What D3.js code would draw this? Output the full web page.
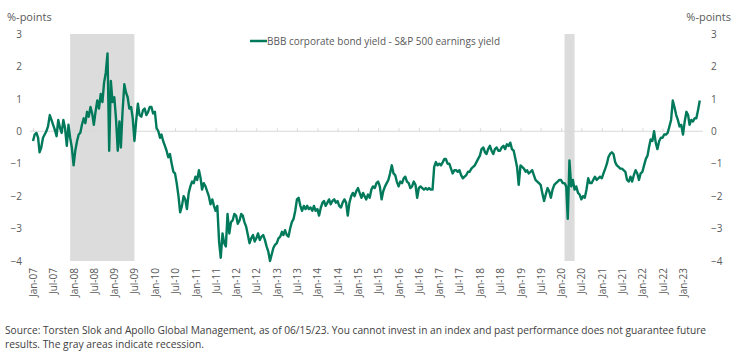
<!DOCTYPE html>
<html>
<head>
<meta charset="utf-8">
<script src="https://cdn.jsdelivr.net/npm/d3@7"></script>
<style>
  html, body { margin: 0; padding: 0; background: #fff; }
  svg { display: block; }
  text { font-family: "Open Sans", "Noto Sans", sans-serif; }
</style>
</head>
<body>
<svg id="chart" width="737" height="360"></svg>
<script>
// ---- data (semi-monthly readings: 1st and 16th of each month, Jan 2007 - Jun 2023) ----
const seriesName = "BBB corporate bond yield - S&P 500 earnings yield";
const startYear = 2007;
const spread = [
  // 2007
  -0.3,-0.1, -0.05,-0.2, -0.65,-0.5, -0.2,-0.1, 0.0,0.15, 0.5,0.35, 0.2,0.05, -0.15,0.35, 0.1,-0.05, 0.35,0.1, -0.45,0.2, -0.2,-0.5,
  // 2008
  -1.05,-0.6, -0.3,-0.1, -0.05,0.2, 0.4,0.25, 0.6,0.45, 0.75,0.55, 0.2,0.6, 0.95,0.7, 1.15,0.9, 1.5,1.8, 2.4,-0.6, 1.55,0.9,
  // 2009
  1.05,0.4, -0.6,0.3, -0.5,0.6, 1.45,1.2, 1.05,0.7, 0.75,0.4, -0.3,0.3, 0.85,0.5, 0.45,0.65, 0.7,0.5, 0.6,0.75, 0.75,0.55,
  // 2010
  0.6,0.1, 0.0,-0.2, -0.1,-0.3, -0.45,-0.6, -0.8,-0.7, -1.0,-1.25, -1.3,-1.6, -2.0,-2.5, -2.3,-2.0, -2.1,-2.4, -1.9,-1.7, -1.55,-1.6,
  // 2011
  -1.4,-1.5, -1.2,-1.45, -1.8,-1.6, -1.7,-1.85, -2.0,-2.25, -2.1,-2.3, -2.45,-2.3, -3.4,-3.9, -3.15,-3.45, -3.55,-2.55, -3.15,-2.8, -2.75,-2.55,
  // 2012
  -2.6,-2.85, -2.75,-2.55, -2.6,-2.8, -2.95,-3.2, -3.45,-3.3, -3.2,-3.4, -3.3,-3.15, -3.35,-3.25, -3.2,-3.35, -3.55,-3.7, -4.0,-3.8, -3.6,-3.5,
  // 2013
  -3.45,-3.3, -3.25,-3.1, -3.2,-3.05, -3.2,-3.25, -3.0,-2.8, -2.7,-2.45, -2.1,-2.05, -2.3,-2.45, -2.3,-2.4, -2.3,-2.4, -2.35,-2.45, -2.3,-2.45,
  // 2014
  -2.4,-2.6, -2.35,-2.2, -2.15,-2.3, -2.2,-2.1, -2.25,-2.15, -2.1,-2.2, -2.15,-2.3, -2.35,-2.2, -2.1,-2.2, -2.6,-2.2, -2.0,-1.9, -2.0,-1.85,
  // 2015
  -1.75,-1.9, -2.05,-1.9, -2.0,-2.1, -1.95,-2.05, -1.8,-1.7, -1.75,-1.6, -1.55,-1.7, -2.1,-1.85, -1.7,-1.6, -1.5,-1.3, -1.05,-1.3, -1.35,-1.55,
  // 2016
  -1.7,-1.55, -1.6,-1.45, -1.4,-1.55, -1.6,-1.75, -1.7,-1.55, -1.65,-2.05, -1.75,-1.7, -1.75,-1.8, -1.75,-1.8, -1.75,-1.8, -1.8,-1.1, -0.95,-1.05,
  // 2017
  -1.0,-1.05, -0.95,-0.85, -0.85,-1.0, -1.0,-1.15, -1.3,-1.2, -1.2,-1.25, -1.2,-1.35, -1.45,-1.4, -1.35,-1.25, -1.25,-1.15, -1.1,-1.05, -0.95,-0.85,
  // 2018
  -0.75,-0.55, -0.5,-0.65, -0.7,-0.55, -0.45,-0.6, -0.7,-0.55, -0.5,-0.6, -0.6,-0.5, -0.45,-0.55, -0.4,-0.45, -0.35,-0.55, -0.6,-0.85, -1.1,-1.65,
  // 2019
  -1.05,-1.1, -1.15,-1.25, -1.2,-1.3, -1.25,-1.2, -1.35,-1.5, -1.55,-1.6, -1.65,-1.9, -2.15,-1.95, -1.75,-1.85, -2.05,-1.8, -1.65,-1.6, -1.55,-1.5,
  // 2020
  -1.5,-1.6, -1.6,-1.7, -2.7,-0.9, -1.7,-1.5, -1.8,-1.7, -1.9,-1.95, -2.1,-2.0, -2.05,-1.8, -1.45,-1.6, -1.6,-1.5, -1.4,-1.5, -1.45,-1.4,
  // 2021
  -1.45,-1.3, -1.15,-1.0, -0.8,-0.7, -0.65,-0.7, -0.95,-1.05, -1.1,-1.15, -1.15,-1.2, -1.25,-1.5, -1.55,-1.4, -1.55,-1.35, -1.2,-1.3, -1.5,-1.3,
  // 2022
  -1.25,-1.05, -0.85,-0.75, -0.5,-0.25, -0.3,0.0, -0.35,-0.55, -0.3,-0.2, -0.2,-0.1, -0.1,-0.05, 0.15,0.35, 0.95,0.75, 0.5,0.35, 0.15,0.2,
  // 2023
  -0.1,0.3, 0.6,0.5, 0.2,0.35, 0.3,0.4, 0.4,0.65, 0.95
];
const recessions = [["2007-12-01", "2009-07-01"], ["2020-02-01", "2020-05-01"]];
const yTicks = [3, 2, 1, 0, -1, -2, -3, -4];
const axisTitle = "%-points";
const footLines = [
  "Source: Torsten Slok and Apollo Global Management, as of 06/15/23. You cannot invest in an index and past performance does not guarantee future",
  "results. The gray areas indicate recession."
];

// ---- build ----
const parse = d3.timeParse("%Y-%m-%d");
const data = spread.map((v, i) => ({
  date: new Date(startYear + Math.floor(i / 24), Math.floor((i % 24) / 2), (i % 2) ? 16 : 1),
  value: v
}));

const svg = d3.select("#chart");
const x = d3.scaleTime().domain([new Date(2007, 0, 1), new Date(2023, 0, 1)]).range([33, 683]);
const y = d3.scaleLinear().domain([-4, 3]).range([261, 34]);

const gray = "#595959";
const green = "#007a5b";

// recession shading
svg.append("g").selectAll("rect").data(recessions).join("rect")
  .attr("x", d => x(parse(d[0])))
  .attr("width", d => x(parse(d[1])) - x(parse(d[0])))
  .attr("y", y(3))
  .attr("height", y(-4) - y(3))
  .attr("fill", "#dcdcdc");

// zero line with ticks (x axis)
const tickDates = d3.timeMonth.every(6).range(new Date(2007, 0, 1), new Date(2023, 1, 1));
const xAxis = d3.axisTop(x).tickValues(tickDates).tickSize(3).tickFormat("");
const gx = svg.append("g").attr("transform", `translate(0,${y(0)})`).call(xAxis);
gx.select(".domain").remove();
gx.selectAll(".tick line").attr("stroke", "#d9d9d9");
svg.append("line")
  .attr("x1", 30).attr("x2", 703)
  .attr("y1", y(0)).attr("y2", y(0))
  .attr("stroke", "#d9d9d9").attr("stroke-width", 1);

// x tick labels (rotated), at the bottom
const fmt = d3.timeFormat("%b-%y");
const xl = d3.axisBottom(x).tickValues(tickDates).tickSize(0).tickFormat(fmt);
const gxl = svg.append("g").attr("transform", "translate(0,268)").call(xl);
gxl.select(".domain").remove();
gxl.selectAll("text")
  .attr("transform", "rotate(-90)")
  .attr("text-anchor", "end")
  .attr("x", 0).attr("y", 0).attr("dy", "0.35em")
  .attr("fill", gray)
  .style("font-family", '"Open Sans", sans-serif')
  .style("font-size", "10px");

// left y axis
const yl = d3.axisLeft(y).tickValues(yTicks).tickSize(0).tickFormat(d3.format("d"));
const gyl = svg.append("g").attr("transform", "translate(22,0)").call(yl);
gyl.select(".domain").remove();
gyl.selectAll("text").attr("fill", gray).attr("x", 0)
  .style("font-family", '"Open Sans", sans-serif').style("font-size", "10px");

// right y axis
const yr = d3.axisRight(y).tickValues(yTicks).tickSize(0).tickFormat(d3.format("d"));
const gyr = svg.append("g").attr("transform", "translate(711,0)").call(yr);
gyr.select(".domain").remove();
gyr.selectAll("text").attr("fill", gray).attr("x", 0)
  .style("font-family", '"Open Sans", sans-serif').style("font-size", "10px");

// axis titles
svg.append("text").attr("x", 7).attr("y", 21).text(axisTitle)
  .attr("fill", gray).style("font-size", "11px");
svg.append("text").attr("x", 731).attr("y", 21).attr("text-anchor", "end").text(axisTitle)
  .attr("fill", gray).style("font-size", "11px");

// series line
const line = d3.line().x(d => x(d.date)).y(d => y(d.value)).curve(d3.curveLinear);
svg.append("path").datum(data)
  .attr("d", line)
  .attr("fill", "none")
  .attr("stroke", green)
  .attr("stroke-width", 2.4)
  .attr("stroke-linejoin", "round");

// legend
const lg = svg.append("g").attr("transform", "translate(250,41)");
lg.append("line").attr("x1", 0).attr("x2", 17).attr("y1", 0).attr("y2", 0)
  .attr("stroke", green).attr("stroke-width", 2.5);
lg.append("text").attr("x", 17).attr("y", 0).attr("dy", "0.35em").text(seriesName)
  .attr("fill", gray).style("font-size", "10px")
  .attr("textLength", 233).attr("lengthAdjust", "spacingAndGlyphs");

// footnote
svg.append("g").selectAll("text").data(footLines).join("text")
  .attr("x", 5)
  .attr("y", (d, i) => 334 + i * 14)
  .text(d => d)
  .attr("fill", "#404040")
  .style("font-family", '"Liberation Sans Narrow", "Open Sans", sans-serif')
  .style("font-size", "10.5px")
  .attr("textLength", (d, i) => i === 0 ? 701 : 199)
  .attr("lengthAdjust", "spacingAndGlyphs");
</script>
</body>
</html>
